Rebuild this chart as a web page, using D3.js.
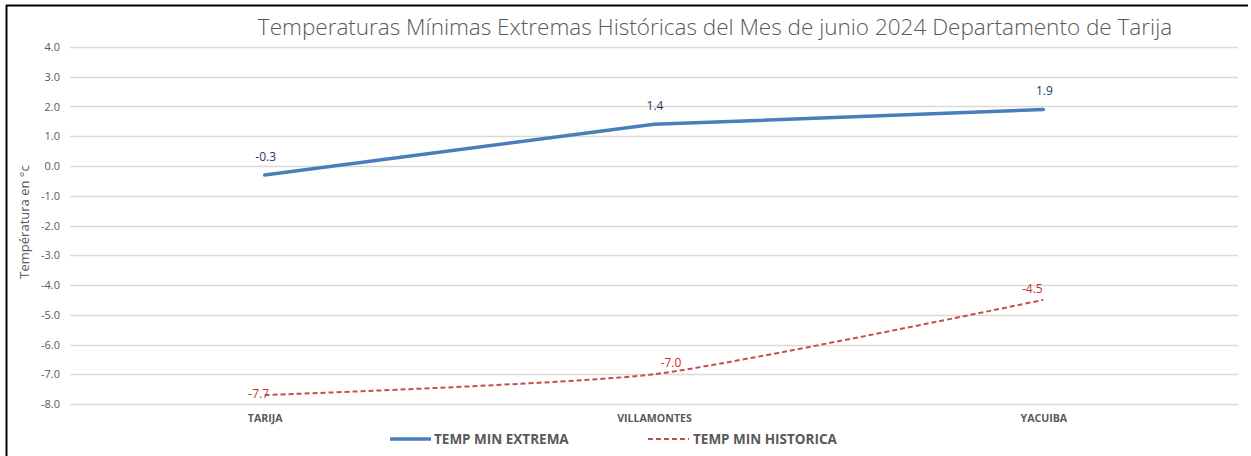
<!DOCTYPE html>
<html><head><meta charset="utf-8">
<script src="https://cdn.jsdelivr.net/npm/d3@7/dist/d3.min.js"></script>
<style>body{margin:0;background:#fff}svg{display:block}</style>
</head><body>
<svg id="c" width="1251" height="456"></svg>
<script>
const categories = ["TARIJA", "VILLAMONTES", "YACUIBA"];
const tempMinExtrema = [-0.3, 1.4, 1.9];
const tempMinHistorica = [-7.7, -7.0, -4.5];
const yTicks = [4, 3, 2, 1, 0, -1, -2, -3, -4, -5, -6, -7, -8];
const seriesNames = ["TEMP MIN EXTREMA", "TEMP MIN HISTORICA"];
const title = "Temperaturas Mínimas Extremas Históricas del Mes de junio 2024 Departamento de Tarija";
const yLabel = "Températura en °c";

const svg = d3.select("#c");
const font = "Open Sans, Noto Sans, sans-serif";
const m = {l: 70, r: 1238, t: 47, b: 404};
const fmt = d => d3.format(".1f")(d).replace("\u2212", "-");

// border
svg.append("line").attr("x1",6).attr("x2",1248).attr("y1",5.5).attr("y2",5.5).attr("stroke","#000").attr("stroke-width",2);
svg.append("line").attr("x1",6.5).attr("x2",6.5).attr("y1",5).attr("y2",456).attr("stroke","#000").attr("stroke-width",2);

const x = d3.scalePoint().domain(categories).range([m.l, m.r]).padding(0.5);
const y = d3.scaleLinear().domain([-8, 4]).range([m.b, m.t]);

// grid
svg.append("g").selectAll("line").data(yTicks).join("line")
  .attr("x1", m.l).attr("x2", m.r)
  .attr("y1", d => Math.round(y(d)) + 0.5).attr("y2", d => Math.round(y(d)) + 0.5)
  .attr("stroke", "#d9d9d9").attr("stroke-width", 1.5);

// y axis
const yAxis = svg.append("g").attr("transform", `translate(${m.l},0)`)
  .call(d3.axisLeft(y).tickValues(yTicks).tickFormat(fmt).tickSize(0).tickPadding(10));
yAxis.select(".domain").remove();
yAxis.selectAll("text").attr("font-family", font).attr("font-size", 11).attr("fill", "#595959");

// x axis
const xAxis = svg.append("g").attr("transform", `translate(0,${m.b})`)
  .call(d3.axisBottom(x).tickSize(0).tickPadding(10));
xAxis.select(".domain").remove();
xAxis.selectAll("text").attr("font-family", font).attr("font-size", 10.6).attr("font-weight", "bold").attr("fill", "#595959");

// title
const t = svg.append("text").attr("x", 715).attr("y", 35).attr("text-anchor", "middle")
  .attr("font-family", font).attr("font-weight", 300).attr("font-size", 21).attr("fill", "#595959").text(title);
const tw = t.node().getComputedTextLength();
t.attr("font-size", 21 * 915 / tw);

// y label
svg.append("text").attr("transform", "translate(29,222) rotate(-90)").attr("text-anchor", "middle")
  .attr("font-family", font).attr("font-size", 13).attr("fill", "#595959").text(yLabel);

// lines
const lineLin = d3.line().x((d, i) => x(categories[i])).y(d => y(d));
const lineSmooth = d3.line().x((d, i) => x(categories[i])).y(d => y(d)).curve(d3.curveCardinal.tension(0.4));

svg.append("path").datum(tempMinExtrema).attr("d", lineLin).attr("fill", "none")
  .attr("stroke", "#4a7ebb").attr("stroke-width", 3.5).attr("stroke-linecap", "round");
svg.append("path").datum(tempMinHistorica).attr("d", lineSmooth).attr("fill", "none")
  .attr("stroke", "#c0504d").attr("stroke-width", 2).attr("stroke-dasharray", "5,3");

// data labels
svg.append("g").selectAll("text").data(tempMinExtrema).join("text")
  .attr("x", (d, i) => x(categories[i]) + 1).attr("y", d => y(d) - 14)
  .attr("text-anchor", "middle").attr("font-family", font).attr("font-size", 12).attr("fill", "#1f3864")
  .text(fmt);
const redOff = [[-6, 3], [17, -7], [-11, -7]];
svg.append("g").selectAll("text").data(tempMinHistorica).join("text")
  .attr("x", (d, i) => x(categories[i]) + redOff[i][0]).attr("y", (d, i) => y(d) + redOff[i][1])
  .attr("text-anchor", "middle").attr("font-family", font).attr("font-size", 12).attr("fill", "#d02c2c")
  .text(fmt);

// legend
const lg = svg.append("g");
lg.append("line").attr("x1", 390).attr("x2", 431).attr("y1", 439).attr("y2", 439)
  .attr("stroke", "#4a7ebb").attr("stroke-width", 3.5);
lg.append("text").attr("x", 434).attr("y", 444).attr("font-family", font).attr("font-size", 13.5)
  .attr("font-weight", "bold").attr("fill", "#595959").text(seriesNames[0]);
lg.append("line").attr("x1", 648).attr("x2", 689).attr("y1", 439).attr("y2", 439)
  .attr("stroke", "#c0504d").attr("stroke-width", 2).attr("stroke-dasharray", "5,3");
lg.append("text").attr("x", 693).attr("y", 444).attr("font-family", font).attr("font-size", 13.5)
  .attr("font-weight", "bold").attr("fill", "#595959").text(seriesNames[1]);
</script>
</body></html>
